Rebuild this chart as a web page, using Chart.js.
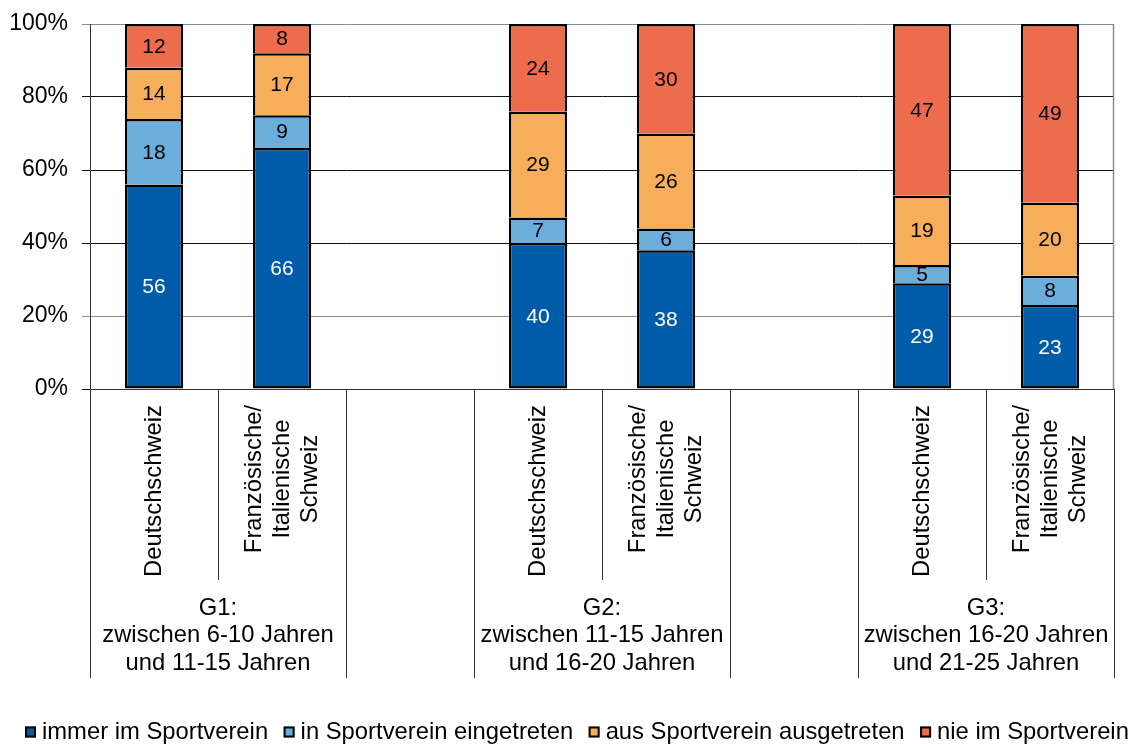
<!DOCTYPE html>
<html lang="de">
<head>
<meta charset="utf-8">
<title>Sportvereinsmitgliedschaft</title>
<script src="https://cdn.jsdelivr.net/npm/chart.js@4/dist/chart.umd.min.js"></script>
<style>
  html, body { margin: 0; padding: 0; background: #ffffff; }
  canvas { display: block; }
</style>
</head>
<body>
<canvas id="chart" width="1132" height="744"></canvas>
<script>
// Category slots: two regions per age group, with an empty slot between groups
const categoryLabels = [
  ['Deutschschweiz'],
  ['Französische/', 'Italienische', 'Schweiz'],
  [],
  ['Deutschschweiz'],
  ['Französische/', 'Italienische', 'Schweiz'],
  [],
  ['Deutschschweiz'],
  ['Französische/', 'Italienische', 'Schweiz']
];

// Age-group labels and how many slots each group spans
const groupLabels = [
  ['G1:', 'zwischen 6-10 Jahren', 'und 11-15 Jahren'],
  [],
  ['G2:', 'zwischen 11-15 Jahren', 'und 16-20 Jahren'],
  [],
  ['G3:', 'zwischen 16-20 Jahren', 'und 21-25 Jahren']
];
const groupSpans = [2, 1, 2, 1, 2];

// Series values (percent)
const immerImVerein   = [56, 66, null, 40, 38, null, 29, 23];
const eingetreten     = [18,  9, null,  7,  6, null,  5,  8];
const ausgetreten     = [14, 17, null, 29, 26, null, 19, 20];
const nieImVerein     = [12,  8, null, 24, 30, null, 47, 49];

const seriesNames = [
  'immer im Sportverein',
  'in Sportverein eingetreten',
  'aus Sportverein ausgetreten',
  'nie im Sportverein'
];
const seriesColors = ['#005CA9', '#6BAEDC', '#F6AE5A', '#EC6C4D'];
const labelColors  = ['#ffffff', '#000000', '#000000', '#000000'];

const yTickValues = [0, 20, 40, 60, 80, 100];

const FONT = '"Liberation Sans", Arial, Helvetica, sans-serif';
Chart.defaults.font.family = FONT;
Chart.defaults.color = '#000000';

// Value labels centred in every stacked segment
const segmentLabels = {
  id: 'segmentLabels',
  afterDatasetsDraw(chart) {
    const ctx = chart.ctx;
    ctx.save();
    ctx.font = '21px ' + FONT;
    ctx.textAlign = 'center';
    ctx.textBaseline = 'middle';
    chart.data.datasets.forEach((ds, i) => {
      const meta = chart.getDatasetMeta(i);
      meta.data.forEach((bar, j) => {
        const v = ds.data[j];
        if (v == null) return;
        const p = bar.getCenterPoint();
        ctx.fillStyle = labelColors[i];
        ctx.fillText(String(v), p.x, p.y + 1);
      });
    });
    ctx.restore();
  }
};

// Two-level category axis, plot frame and legend
const axisDecor = {
  id: 'axisDecor',
  afterDraw(chart) {
    const ctx = chart.ctx;
    const a = chart.chartArea;
    const x = chart.scales.x;
    const n = categoryLabels.length;
    const slot = x.getPixelForValue(1) - x.getPixelForValue(0);
    const edge = k => x.getPixelForValue(0) - slot / 2 + k * slot;

    ctx.save();

    // right frame line of the plot area
    ctx.strokeStyle = '#8c8c8c';
    ctx.lineWidth = 1.5;
    ctx.beginPath();
    ctx.moveTo(Math.round(a.right) - 0.5, a.top);
    ctx.lineTo(Math.round(a.right) - 0.5, a.bottom);
    ctx.stroke();

    // separators between categories and between groups
    const groupEdges = new Set([0]);
    let acc = 0;
    groupSpans.forEach(s => { acc += s; groupEdges.add(acc); });
    ctx.strokeStyle = '#333333';
    ctx.lineWidth = 1;
    for (let k = 0; k <= n; k++) {
      const px = Math.round(edge(k)) + 0.5;
      const bottom = groupEdges.has(k) ? 678 : 580;
      ctx.beginPath();
      ctx.moveTo(px, a.bottom);
      ctx.lineTo(px, bottom);
      ctx.stroke();
    }

    // rotated region labels
    ctx.fillStyle = '#000000';
    ctx.font = '23.8px ' + FONT;
    ctx.textAlign = 'center';
    ctx.textBaseline = 'middle';
    const lineGap = 28;
    categoryLabels.forEach((lines, i) => {
      if (!lines.length) return;
      const cx = x.getPixelForValue(i);
      const blockW = Math.max(...lines.map(t => ctx.measureText(t).width));
      ctx.save();
      ctx.translate(cx, a.bottom + 16);
      ctx.rotate(-Math.PI / 2);
      lines.forEach((t, li) => {
        ctx.fillText(t, -blockW / 2, (li - (lines.length - 1) / 2) * lineGap);
      });
      ctx.restore();
    });

    // age-group labels
    let start = 0;
    groupSpans.forEach((span, g) => {
      const lines = groupLabels[g];
      const cx = (edge(start) + edge(start + span)) / 2;
      lines.forEach((t, li) => {
        ctx.fillText(t, cx, 608 + li * 27.5);
      });
      start += span;
    });

    // legend
    let lx = 25;
    const ly = 732;
    ctx.textAlign = 'left';
    seriesNames.forEach((name, i) => {
      ctx.fillStyle = seriesColors[i];
      ctx.fillRect(lx, ly - 5.5, 11, 11);
      ctx.strokeStyle = '#000000';
      ctx.lineWidth = 2;
      ctx.strokeRect(lx + 1, ly - 4.5, 9, 9);
      ctx.fillStyle = '#000000';
      ctx.fillText(name, lx + 17, ly);
      lx += 17 + ctx.measureText(name).width + 15.5;
    });

    ctx.restore();
  }
};

const seriesData = [immerImVerein, eingetreten, ausgetreten, nieImVerein];

const datasets = seriesData.map((values, i) => ({
  label: seriesNames[i],
  data: values,
  backgroundColor: seriesColors[i],
  borderColor: '#000000',
  borderWidth: { top: 2.5, left: 2.5, right: 2.5, bottom: i === 0 ? 2.5 : 0 },
  borderSkipped: false,
  inflateAmount: 0,
  categoryPercentage: 1,
  barPercentage: 0.455
}));

new Chart(document.getElementById('chart'), {
  type: 'bar',
  data: {
    labels: categoryLabels.map(l => l.join(' ')),
    datasets
  },
  plugins: [segmentLabels, axisDecor],
  options: {
    responsive: false,
    devicePixelRatio: 1,
    animation: false,
    layout: { padding: { top: 24, right: 18, bottom: 0, left: 0 } },
    plugins: {
      legend: { display: false },
      tooltip: { enabled: false }
    },
    scales: {
      x: {
        stacked: true,
        grid: { display: false },
        border: { display: true, color: '#333333', width: 1 },
        ticks: { display: false },
        afterFit(scale) { scale.height = 355; }
      },
      y: {
        stacked: true,
        min: 0,
        max: 100,
        afterBuildTicks(scale) {
          scale.ticks = yTickValues.map(v => ({ value: v }));
        },
        ticks: {
          padding: 14,
          font: { size: 23 },
          color: '#000000',
          callback: v => v + '%'
        },
        grid: {
          color: ctx => (ctx.tick && (ctx.tick.value === 20 || ctx.tick.value === 100)) ? '#8c8c8c' : '#111111',
          lineWidth: 1,
          tickLength: 8
        },
        border: { display: true, color: '#333333', width: 1 },
        afterFit(scale) {
          scale.width = 90;
          scale.paddingTop = 0;
          scale.paddingBottom = 0;
        }
      }
    }
  }
});
</script>
</body>
</html>
